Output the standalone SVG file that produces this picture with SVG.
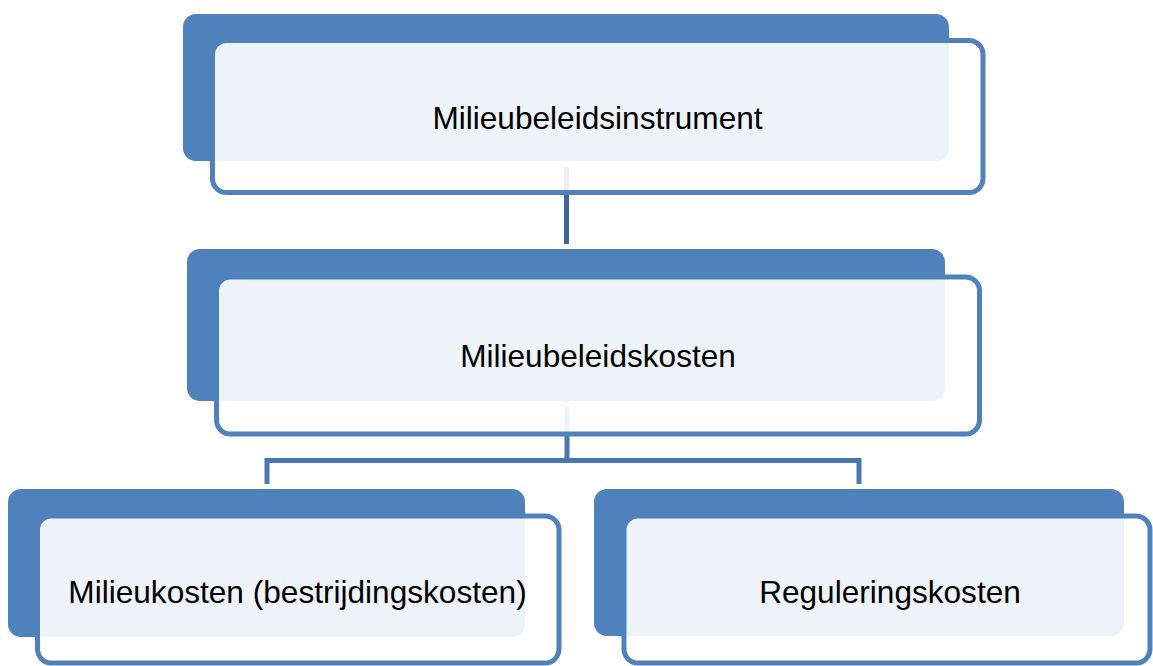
<svg xmlns="http://www.w3.org/2000/svg" width="1153" height="666" viewBox="0 0 1153 666">
<style>
.back{fill:#4f81bd;}
.front{fill:#ffffff;fill-opacity:0.9;stroke:#4f81bd;stroke-width:5;}
.lbl{font-family:"Liberation Sans",Arial,sans-serif;font-size:31.6px;fill:#000000;text-anchor:middle;}
.conn{fill:none;stroke-width:5;stroke-linejoin:miter;}
</style>
<rect width="1153" height="666" fill="#ffffff"/>
<g id="backs">
<rect class="back" x="183" y="14" width="766" height="147" rx="13"/>
<rect class="back" x="187" y="249" width="758" height="152" rx="13"/>
<rect class="back" x="8" y="489" width="517" height="148" rx="13"/>
<rect class="back" x="594" y="489" width="530" height="147" rx="13"/>
</g>
<g id="connectors">
<line class="conn" stroke="#3d6699" x1="566.5" y1="167" x2="566.5" y2="244"/>
<line class="conn" stroke="#4a77b2" x1="567" y1="407" x2="567" y2="460.5"/>
<path class="conn" stroke="#4a77b2" d="M267,484 V460.5 H859 V484"/>
</g>
<g id="node-milieubeleidsinstrument">
<rect class="front" x="212.5" y="40.5" width="770.5" height="152" rx="14"/>
<text class="lbl" x="597.5" y="128.5">Milieubeleidsinstrument</text>
</g>
<g id="node-milieubeleidskosten">
<rect class="front" x="216.5" y="277" width="763" height="157" rx="14"/>
<text class="lbl" x="598" y="367">Milieubeleidskosten</text>
</g>
<g id="node-milieukosten">
<rect class="front" x="37.5" y="516" width="521.5" height="147" rx="14"/>
<text class="lbl" x="297.5" y="603">Milieukosten (bestrijdingskosten)</text>
</g>
<g id="node-reguleringskosten">
<rect class="front" x="624" y="516" width="526" height="147" rx="14"/>
<text class="lbl" x="890" y="602.5">Reguleringskosten</text>
</g>
</svg>
